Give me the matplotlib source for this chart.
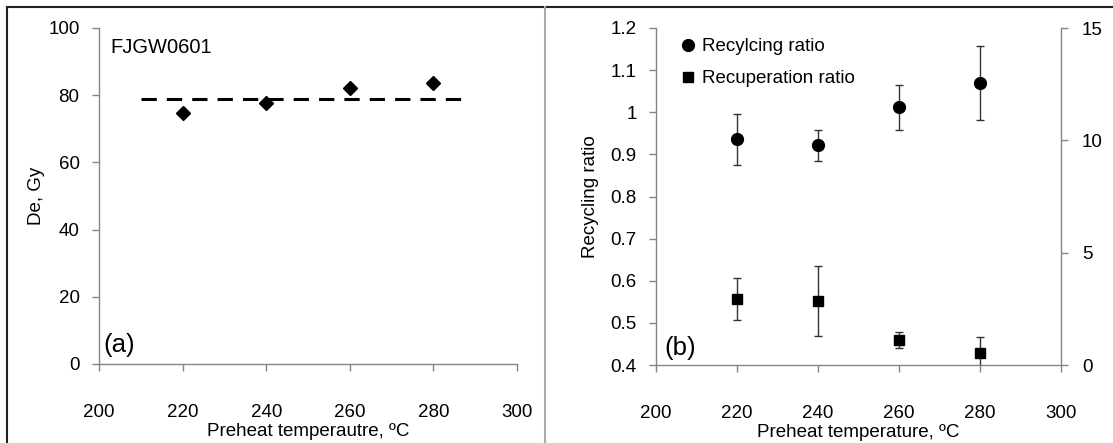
import matplotlib
matplotlib.use("Agg")
import matplotlib.pyplot as plt
from matplotlib.lines import Line2D
from matplotlib.ticker import FuncFormatter

plt.rcParams["font.family"] = ["Liberation Sans", "DejaVu Sans"]

# (a) equivalent dose vs preheat
temps = [220, 240, 260, 280]
de_gy = [74.6, 77.6, 82.0, 83.5]
de_mean = 78.9
mean_span = [210, 287]

# (b) recycling ratio (left axis) and recuperation ratio (right axis)
recycling = [0.936, 0.922, 1.012, 1.069]
recycling_err = [0.061, 0.037, 0.053, 0.088]
recuperation = [2.93, 2.85, 1.11, 0.53]
recuperation_err = [0.93, 1.56, 0.34, 0.73]

axis_grey = "#868686"
fs = 13.5

fig = plt.figure(figsize=(11.13, 4.43), dpi=100)

# panel frame lines
fig.add_artist(Line2D([7 / 1113, 1], [1 - 7 / 443] * 2, color="#222222", lw=1.5))
fig.add_artist(Line2D([7 / 1113] * 2, [0, 1 - 7 / 443], color="#222222", lw=1.5))
fig.add_artist(Line2D([545 / 1113] * 2, [0, 1 - 7 / 443], color="#aaaaaa", lw=1.5))


def style_axis(ax, sides):
    for s in ["top", "right", "left", "bottom"]:
        ax.spines[s].set_visible(s in sides)
        ax.spines[s].set_color(axis_grey)
        ax.spines[s].set_linewidth(1.0)
    ax.tick_params(direction="out", length=5, width=1.0, color=axis_grey,
                   labelsize=fs, labelcolor="black")
    ax.tick_params(axis="x", pad=24)
    ax.tick_params(axis="y", pad=9)


# ---- (a) ----
axa = fig.add_axes([99 / 1113, 79 / 443, 418 / 1113, 336 / 443])
style_axis(axa, ["left", "bottom"])
axa.plot(mean_span, [de_mean, de_mean], color="black", lw=2.2, dashes=(5, 3.3))
axa.plot(temps, de_gy, "D", color="black", markersize=7.5)
axa.set_xlim(200, 300)
axa.set_ylim(0, 100)
axa.set_xticks(range(200, 301, 20))
axa.set_yticks(range(0, 101, 20))
axa.set_xlabel("Preheat temperautre, ºC", fontsize=fs, labelpad=1)
axa.set_ylabel("De, Gy", fontsize=fs, labelpad=2)
axa.text(0.028, 0.943, "FJGW0601", transform=axa.transAxes, fontsize=14.5, va="center")
axa.text(0.01, 0.057, "(a)", transform=axa.transAxes, fontsize=18.5, va="center")

# ---- (b) ----
axb = fig.add_axes([656 / 1113, 78 / 443, 405 / 1113, 337 / 443])
style_axis(axb, ["left", "bottom"])
axb.errorbar(temps, recycling, yerr=recycling_err, fmt="o", color="black",
             markersize=8.5, ecolor="#333333", elinewidth=1.0, capsize=3, capthick=1.0)
axb.set_xlim(200, 300)
axb.set_ylim(0.4, 1.2)
axb.set_xticks(range(200, 301, 20))
axb.set_yticks([0.4, 0.5, 0.6, 0.7, 0.8, 0.9, 1.0, 1.1, 1.2])
axb.yaxis.set_major_formatter(FuncFormatter(lambda v, p: f"{v:g}"))
axb.set_xlabel("Preheat temperature, ºC", fontsize=fs, labelpad=1)
axb.set_ylabel("Recycling ratio", fontsize=fs, labelpad=8)

axr = axb.twinx()
style_axis(axr, ["right"])
axr.errorbar(temps, recuperation, yerr=recuperation_err, fmt="s", color="black",
             markersize=7.5, ecolor="#333333", elinewidth=1.0, capsize=3, capthick=1.0)
axr.set_ylim(0, 15)
axr.set_yticks([0, 5, 10, 15])
axr.tick_params(axis="y", pad=10)
axr.text(0.02, 0.05, "(b)", transform=axr.transAxes, fontsize=18.5, va="center")

handles = [
    Line2D([], [], marker="o", ls="none", color="black", markersize=8.5),
    Line2D([], [], marker="s", ls="none", color="black", markersize=7.5),
]
axr.legend(handles, ["Recylcing ratio", "Recuperation ratio"], loc="upper left",
           bbox_to_anchor=(0.02, 1.02), frameon=False, fontsize=fs,
           handlelength=0.8, handletextpad=0.3, labelspacing=0.8)

fig.savefig("out.png", dpi=100)
